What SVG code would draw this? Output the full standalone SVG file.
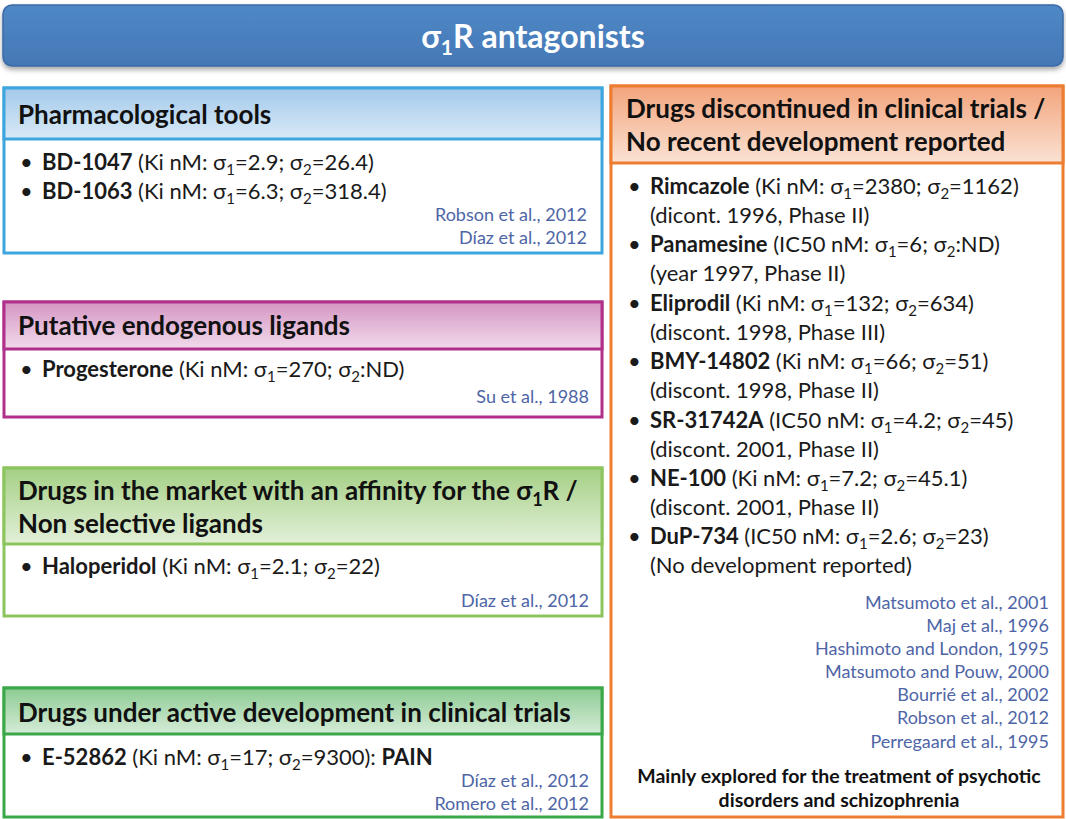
<svg xmlns="http://www.w3.org/2000/svg" width="1066" height="819" viewBox="0 0 1066 819">
  <defs>
    <linearGradient id="gTitle" x1="0" y1="0" x2="0" y2="1">
      <stop offset="0" stop-color="#5088c6"/>
      <stop offset="1" stop-color="#4477b5"/>
    </linearGradient>
    <linearGradient id="gBlue" x1="0" y1="0" x2="0" y2="1">
      <stop offset="0" stop-color="#a3c9ea"/>
      <stop offset="1" stop-color="#d9eaf7"/>
    </linearGradient>
    <linearGradient id="gPink" x1="0" y1="0" x2="0" y2="1">
      <stop offset="0" stop-color="#d595c3"/>
      <stop offset="1" stop-color="#f1dbeb"/>
    </linearGradient>
    <linearGradient id="gLime" x1="0" y1="0" x2="0" y2="1">
      <stop offset="0" stop-color="#a4cf84"/>
      <stop offset="1" stop-color="#e3f0d9"/>
    </linearGradient>
    <linearGradient id="gGreen" x1="0" y1="0" x2="0" y2="1">
      <stop offset="0" stop-color="#8ccb92"/>
      <stop offset="1" stop-color="#d6ecd8"/>
    </linearGradient>
    <linearGradient id="gOrange" x1="0" y1="0" x2="0" y2="1">
      <stop offset="0" stop-color="#f2a47c"/>
      <stop offset="1" stop-color="#fbe2d3"/>
    </linearGradient>
    <filter id="shadow" x="-2%" y="-20%" width="104%" height="150%">
      <feDropShadow dx="0" dy="3" stdDeviation="2.5" flood-color="#000" flood-opacity="0.35"/>
    </filter>
  </defs>
  <style>
    text { font-family: Lato, "Open Sans", "Noto Sans", sans-serif; }
    .title { font-size: 32px; font-weight: bold; fill: #ffffff; }
    .head { font-size: 26px; font-weight: bold; fill: #111111; }
    .body { font-size: 22px; fill: #1a1a1a; }
    .b { font-weight: bold; }
    .sb { font-size: 15px; }
    .ref { font-size: 18px; fill: #4e65a6; text-anchor: end; }
    .note { font-size: 19.5px; font-weight: bold; fill: #111111; text-anchor: middle; }
    .frame { fill: #ffffff; stroke-width: 3; }
    .bar { stroke-width: 3; }
  </style>

  <rect width="1066" height="819" fill="#ffffff"/>

  <!-- title banner -->
  <g id="title">
    <rect x="3" y="5" width="1060" height="61" rx="9" fill="url(#gTitle)" stroke="#3b6aa5" stroke-width="1.5" filter="url(#shadow)"/>
    <text class="title" x="533" y="48" text-anchor="middle">σ<tspan font-size="21px" dy="7">1</tspan><tspan dy="-7">R antagonists</tspan></text>
  </g>

  <!-- pharmacological tools -->
  <g id="tools">
    <rect class="frame" x="4" y="88" width="598" height="165" stroke="#3ea6de"/>
    <rect class="bar" x="4" y="88" width="598" height="51" fill="url(#gBlue)" stroke="#3ea6de"/>
    <text class="head" x="18" y="124">Pharmacological tools</text>
    <text class="body" x="20" y="170">•</text>
    <text class="body" x="42" y="170"><tspan class="b">BD-1047</tspan> (Ki nM: σ<tspan class="sb" dy="5">1</tspan><tspan dy="-5">=2.9; σ</tspan><tspan class="sb" dy="5">2</tspan><tspan dy="-5">=26.4)</tspan></text>
    <text class="body" x="20" y="199">•</text>
    <text class="body" x="42" y="199"><tspan class="b">BD-1063</tspan> (Ki nM: σ<tspan class="sb" dy="5">1</tspan><tspan dy="-5">=6.3; σ</tspan><tspan class="sb" dy="5">2</tspan><tspan dy="-5">=318.4)</tspan></text>
    <text class="ref" x="587" y="221">Robson et al., 2012</text>
    <text class="ref" x="587" y="244">Díaz et al., 2012</text>
  </g>

  <!-- putative endogenous ligands -->
  <g id="endogenous">
    <rect class="frame" x="4" y="302" width="598" height="115" stroke="#b0308c"/>
    <rect class="bar" x="4" y="302" width="598" height="47" fill="url(#gPink)" stroke="#b0308c"/>
    <text class="head" x="18" y="335">Putative endogenous ligands</text>
    <text class="body" x="20" y="377">•</text>
    <text class="body" x="42" y="377"><tspan class="b">Progesterone</tspan> (Ki nM: σ<tspan class="sb" dy="5">1</tspan><tspan dy="-5">=270; σ</tspan><tspan class="sb" dy="5">2</tspan><tspan dy="-5">:ND)</tspan></text>
    <text class="ref" x="589" y="403">Su et al., 1988</text>
  </g>

  <!-- drugs on the market -->
  <g id="market">
    <rect class="frame" x="4" y="468" width="598" height="148" stroke="#8cc45e"/>
    <rect class="bar" x="4" y="468" width="598" height="76" fill="url(#gLime)" stroke="#8cc45e"/>
    <text class="head" x="18" y="500">Drugs in the market with an affinity for the σ<tspan font-size="18px" dy="6">1</tspan><tspan dy="-6">R /</tspan></text>
    <text class="head" x="18" y="533">Non selective ligands</text>
    <text class="body" x="20" y="574">•</text>
    <text class="body" x="42" y="574"><tspan class="b">Haloperidol</tspan> (Ki nM: σ<tspan class="sb" dy="5">1</tspan><tspan dy="-5">=2.1; σ</tspan><tspan class="sb" dy="5">2</tspan><tspan dy="-5">=22)</tspan></text>
    <text class="ref" x="589" y="607">Díaz et al., 2012</text>
  </g>

  <!-- drugs under active development -->
  <g id="development">
    <rect class="frame" x="4" y="688" width="598" height="129" stroke="#3aa748"/>
    <rect class="bar" x="4" y="688" width="598" height="46" fill="url(#gGreen)" stroke="#3aa748"/>
    <text class="head" x="18" y="722">Drugs under active development in clinical trials</text>
    <text class="body" x="20" y="765">•</text>
    <text class="body" x="42" y="765"><tspan class="b">E-52862</tspan> (Ki nM: σ<tspan class="sb" dy="5">1</tspan><tspan dy="-5">=17; σ</tspan><tspan class="sb" dy="5">2</tspan><tspan dy="-5">=9300): </tspan><tspan class="b">PAIN</tspan></text>
    <text class="ref" x="589" y="787">Díaz et al., 2012</text>
    <text class="ref" x="589" y="810">Romero et al., 2012</text>
  </g>

  <!-- discontinued drugs -->
  <g id="discontinued">
    <rect class="frame" x="611" y="86" width="452" height="731" stroke="#ed7d31"/>
    <rect class="bar" x="611" y="86" width="452" height="77" fill="url(#gOrange)" stroke="#ed7d31"/>
    <text class="head" x="626" y="118">Drugs discontinued in clinical trials /</text>
    <text class="head" x="626" y="151">No recent development reported</text>

    <text class="body" x="628" y="194">•</text>
    <text class="body" x="650" y="194"><tspan class="b">Rimcazole</tspan> (Ki nM: σ<tspan class="sb" dy="5">1</tspan><tspan dy="-5">=2380; σ</tspan><tspan class="sb" dy="5">2</tspan><tspan dy="-5">=1162)</tspan></text>
    <text class="body" x="650" y="223">(dicont. 1996, Phase II)</text>

    <text class="body" x="628" y="252">•</text>
    <text class="body" x="650" y="252"><tspan class="b">Panamesine</tspan> (IC50 nM: σ<tspan class="sb" dy="5">1</tspan><tspan dy="-5">=6; σ</tspan><tspan class="sb" dy="5">2</tspan><tspan dy="-5">:ND)</tspan></text>
    <text class="body" x="650" y="281">(year 1997, Phase II)</text>

    <text class="body" x="628" y="311">•</text>
    <text class="body" x="650" y="311"><tspan class="b">Eliprodil</tspan> (Ki nM: σ<tspan class="sb" dy="5">1</tspan><tspan dy="-5">=132; σ</tspan><tspan class="sb" dy="5">2</tspan><tspan dy="-5">=634)</tspan></text>
    <text class="body" x="650" y="340">(discont. 1998, Phase III)</text>

    <text class="body" x="628" y="369">•</text>
    <text class="body" x="650" y="369"><tspan class="b">BMY-14802</tspan> (Ki nM: σ<tspan class="sb" dy="5">1</tspan><tspan dy="-5">=66; σ</tspan><tspan class="sb" dy="5">2</tspan><tspan dy="-5">=51)</tspan></text>
    <text class="body" x="650" y="398">(discont. 1998, Phase II)</text>

    <text class="body" x="628" y="428">•</text>
    <text class="body" x="650" y="428"><tspan class="b">SR-31742A</tspan> (IC50 nM: σ<tspan class="sb" dy="5">1</tspan><tspan dy="-5">=4.2; σ</tspan><tspan class="sb" dy="5">2</tspan><tspan dy="-5">=45)</tspan></text>
    <text class="body" x="650" y="457">(discont. 2001, Phase II)</text>

    <text class="body" x="628" y="486">•</text>
    <text class="body" x="650" y="486"><tspan class="b">NE-100</tspan> (Ki nM: σ<tspan class="sb" dy="5">1</tspan><tspan dy="-5">=7.2; σ</tspan><tspan class="sb" dy="5">2</tspan><tspan dy="-5">=45.1)</tspan></text>
    <text class="body" x="650" y="515">(discont. 2001, Phase II)</text>

    <text class="body" x="628" y="544">•</text>
    <text class="body" x="650" y="544"><tspan class="b">DuP-734</tspan> (IC50 nM: σ<tspan class="sb" dy="5">1</tspan><tspan dy="-5">=2.6; σ</tspan><tspan class="sb" dy="5">2</tspan><tspan dy="-5">=23)</tspan></text>
    <text class="body" x="650" y="573">(No development reported)</text>

    <text class="ref" x="1049" y="609">Matsumoto et al., 2001</text>
    <text class="ref" x="1049" y="632">Maj et al., 1996</text>
    <text class="ref" x="1049" y="655">Hashimoto and London, 1995</text>
    <text class="ref" x="1049" y="678">Matsumoto and Pouw, 2000</text>
    <text class="ref" x="1049" y="701">Bourrié et al., 2002</text>
    <text class="ref" x="1049" y="724">Robson et al., 2012</text>
    <text class="ref" x="1049" y="748">Perregaard et al., 1995</text>

    <text class="note" x="839" y="783">Mainly explored for the treatment of psychotic</text>
    <text class="note" x="839" y="807">disorders and schizophrenia</text>
  </g>
</svg>
